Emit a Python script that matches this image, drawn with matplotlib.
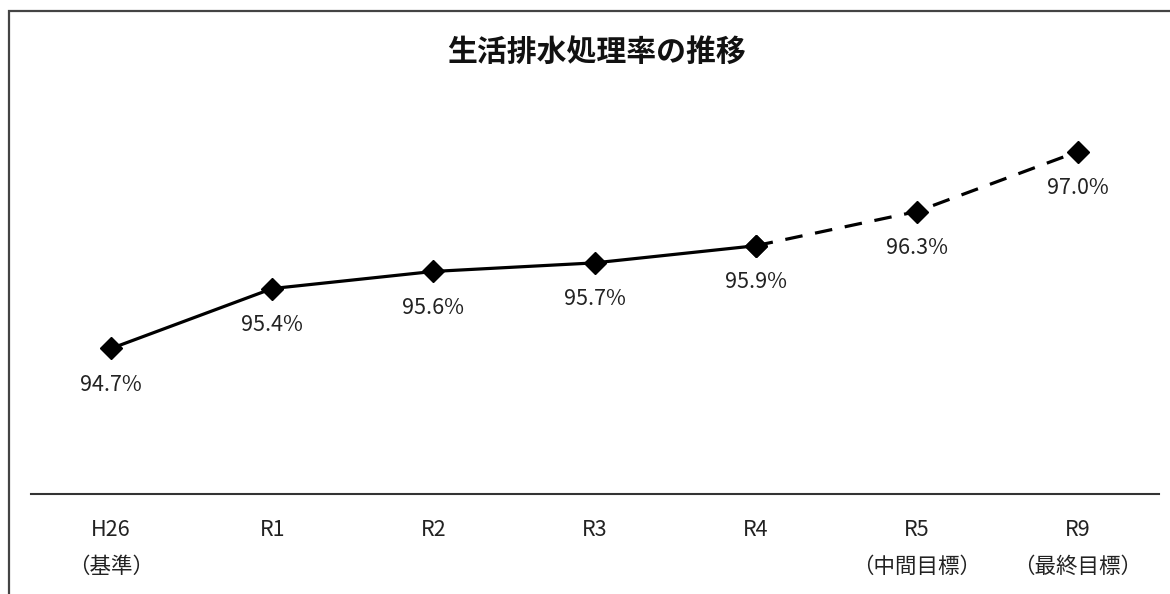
import matplotlib.pyplot as plt
from matplotlib.patches import Rectangle

plt.rcParams['font.family'] = ['Noto Sans CJK JP', 'DejaVu Sans']

# 年度ごとの生活排水処理率 (%)
years = ['H26', 'R1', 'R2', 'R3', 'R4', 'R5', 'R9']
notes = ['（基準）', '', '', '', '', '（中間目標）', '（最終目標）']
rates = [94.7, 95.4, 95.6, 95.7, 95.9, 96.3, 97.0]
n_actual = 5  # H26〜R4 は実績、R5 以降は目標

fig = plt.figure(figsize=(11.7, 5.94), dpi=100)
ax = fig.add_axes([30.5 / 1170, 100 / 594, 1128 / 1170, 428 / 594])

x = list(range(len(years)))
# 実績は実線、目標は破線
ax.plot(x[:n_actual], rates[:n_actual], color='black', lw=2.3,
        marker='D', markersize=11, zorder=3)
ax.plot(x[n_actual - 1:], rates[n_actual - 1:], color='black', lw=2.3,
        ls=(0, (5.5, 4)), marker='D', markersize=11, zorder=3)

for xi, v in zip(x, rates):
    ax.annotate(f'{v:.1f}%', (xi, v), xytext=(0, -26), textcoords='offset points',
                ha='center', va='center', fontsize=15.5, color='#222222')

ax.set_xlim(-0.5, len(years) - 0.5)
ax.set_ylim(93.0, 98.0)
ax.set_xticks(x)
ax.set_xticklabels([f'{y}\n{n}' if n else y for y, n in zip(years, notes)])
for lbl in ax.get_xticklabels():
    lbl.set_linespacing(1.9)
    lbl.set_verticalalignment('top')
ax.tick_params(axis='x', length=0, pad=18, labelsize=15.5, colors='#222222')
ax.set_yticks([])
for side in ('top', 'left', 'right'):
    ax.spines[side].set_visible(False)
ax.spines['bottom'].set_color('#333333')
ax.spines['bottom'].set_linewidth(1.5)

fig.text(596 / 1170, 1 - 52 / 594, '生活排水処理率の推移', ha='center', va='center',
         fontsize=21.5, fontweight='bold', color='#111111')

# グラフ外枠
fig.add_artist(Rectangle((9 / 1170, -0.1), 1.1, 1.1 - 11 / 594,
                         transform=fig.transFigure, fill=False,
                         edgecolor='#444444', lw=1.6, clip_on=False))

fig.savefig('out.png', dpi=100, facecolor='white')
